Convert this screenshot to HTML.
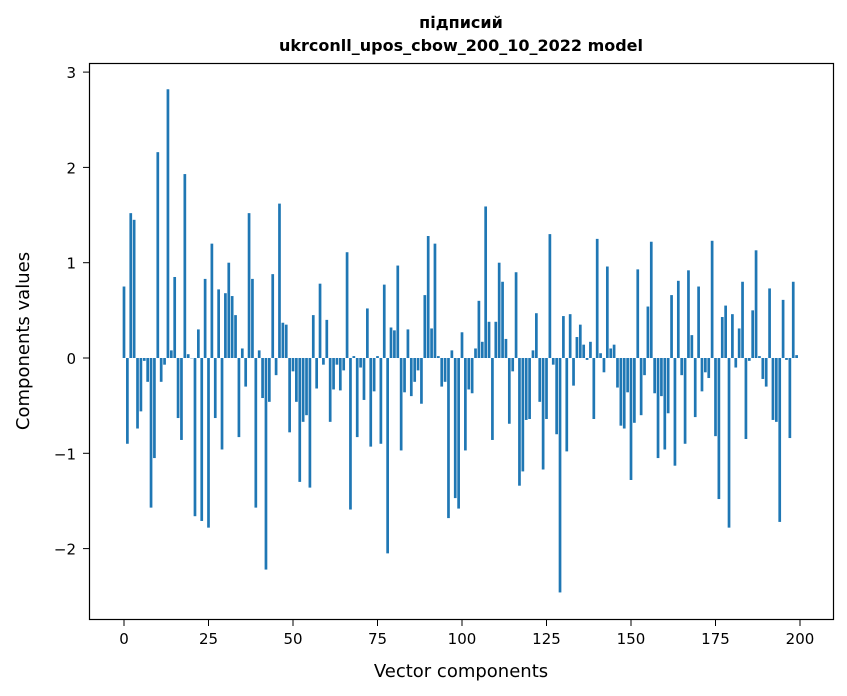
<!DOCTYPE html>
<html><head><meta charset="utf-8"><style>
body{margin:0;background:#fff;}
svg{display:block;font-family:"DejaVu Sans","Liberation Sans",sans-serif;}
</style></head><body>
<svg id="chart" width="847" height="696" viewBox="0 0 847 696" xmlns="http://www.w3.org/2000/svg">
<rect width="847" height="696" fill="#fff"/>
<text x="461" y="28" text-anchor="middle" font-size="16" font-weight="bold">підписий</text>
<text x="461" y="51" text-anchor="middle" font-size="16" font-weight="bold">ukrconll_upos_cbow_200_10_2022 model</text>
<g id="bars"></g>
<g id="xticks"></g>
<g id="yticks"></g>
<rect x="89.5" y="63.5" width="744" height="556" fill="none" stroke="#000" stroke-width="1.2"/>
<text x="461" y="677" text-anchor="middle" font-size="18">Vector components</text>
<text x="29" y="341" text-anchor="middle" font-size="18" transform="rotate(-90 29 341)">Components values</text>
</svg>
<script>
const values = [0.75,-0.9,1.52,1.45,-0.74,-0.56,-0.03,-0.25,-1.57,-1.05,2.16,-0.25,-0.07,2.82,0.08,0.85,-0.63,-0.86,1.93,0.04,
0.0,-1.66,0.3,-1.71,0.83,-1.78,1.2,-0.63,0.72,-0.96,0.68,1.0,0.65,0.45,-0.83,0.1,-0.3,1.52,0.83,-1.57,
0.08,-0.42,-2.22,-0.46,0.88,-0.18,1.62,0.37,0.35,-0.78,-0.14,-0.46,-1.3,-0.67,-0.6,-1.36,0.45,-0.32,0.78,-0.07,
0.4,-0.67,-0.33,-0.07,-0.34,-0.13,1.11,-1.59,0.02,-0.83,-0.1,-0.44,0.52,-0.93,-0.35,0.02,-0.9,0.77,-2.05,0.32,
0.29,0.97,-0.97,-0.36,0.3,-0.4,-0.25,-0.13,-0.48,0.66,1.28,0.31,1.2,0.02,-0.3,-0.25,-1.68,0.08,-1.47,-1.58,
0.27,-0.97,-0.33,-0.37,0.1,0.6,0.17,1.59,0.38,-0.86,0.38,1.0,0.8,0.2,-0.69,-0.14,0.9,-1.34,-1.19,-0.65,
-0.64,0.08,0.47,-0.46,-1.17,-0.64,1.3,-0.07,-0.8,-2.46,0.44,-0.98,0.46,-0.29,0.22,0.35,0.14,-0.02,0.17,-0.64,
1.25,0.05,-0.15,0.96,0.1,0.14,-0.31,-0.71,-0.74,-0.36,-1.28,-0.68,0.93,-0.6,-0.18,0.54,1.22,-0.37,-1.05,-0.4,
-0.96,-0.58,0.66,-1.13,0.81,-0.18,-0.9,0.92,0.24,-0.62,0.75,-0.35,-0.15,-0.21,1.23,-0.82,-1.48,0.43,0.55,-1.78,
0.46,-0.1,0.31,0.8,-0.85,-0.03,0.5,1.13,0.02,-0.22,-0.3,0.73,-0.65,-0.67,-1.72,0.61,-0.02,-0.84,0.8,0.03];
const xTicks = [0,25,50,75,100,125,150,175,200];
const yTicks = [-2,-1,0,1,2,3];
const yTickLabels = ["\u22122","\u22121","0","1","2","3"];
const NS="http://www.w3.org/2000/svg";
function xs(v){return 124+v*3.38;}
function ys(v){return 358-v*95.3;}
const bars=document.getElementById('bars');
values.forEach(function(v,i){
  const r=document.createElementNS(NS,'rect');
  const x0=xs(i-0.4), x1=xs(i+0.4);
  const y0=Math.min(ys(v),ys(0)), h=Math.abs(ys(v)-ys(0));
  r.setAttribute('x',x0);r.setAttribute('width',x1-x0);
  r.setAttribute('y',y0);r.setAttribute('height',Math.max(h,0.3));
  r.setAttribute('fill','#1f77b4');
  
  
  bars.appendChild(r);
});
const xg=document.getElementById('xticks');
xTicks.forEach(function(t){
  const l=document.createElementNS(NS,'line');
  l.setAttribute('x1',xs(t));l.setAttribute('x2',xs(t));l.setAttribute('y1',620);l.setAttribute('y2',626);l.setAttribute('stroke','#000');
  
  
  xg.appendChild(l);
  const tx=document.createElementNS(NS,'text');
  tx.setAttribute('x',xs(t));tx.setAttribute('y',644);tx.setAttribute('text-anchor','middle');tx.setAttribute('font-size','15');
  tx.textContent=t;
  
  
  xg.appendChild(tx);
});
const yg=document.getElementById('yticks');
yTicks.forEach(function(t,i){
  const l=document.createElementNS(NS,'line');
  l.setAttribute('x1',83);l.setAttribute('x2',89);l.setAttribute('y1',ys(t));l.setAttribute('y2',ys(t));l.setAttribute('stroke','#000');
  
  
  yg.appendChild(l);
  const tx=document.createElementNS(NS,'text');
  tx.setAttribute('x',76);tx.setAttribute('y',ys(t)+6);tx.setAttribute('text-anchor','end');tx.setAttribute('font-size','15');
  tx.textContent=yTickLabels[i];
  
  
  yg.appendChild(tx);
});
</script>
</body></html>
